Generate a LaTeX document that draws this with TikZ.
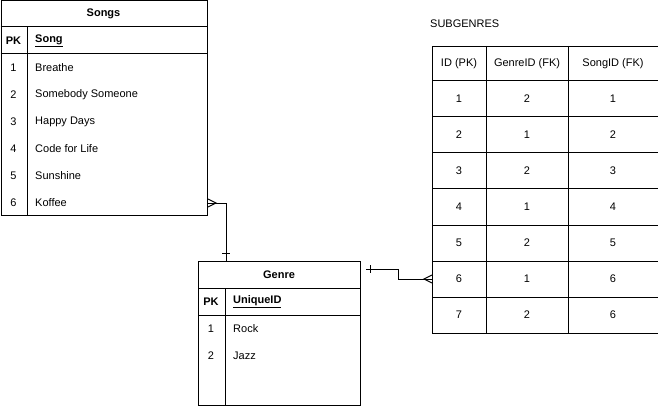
\documentclass[tikz,border=0pt]{standalone}
\usepackage{fontspec}
\setmainfont{Liberation Sans}
\usetikzlibrary{positioning, calc}
\tikzset{
    entity/.style={
        rectangle, draw=black, line width=1pt,
        anchor=north west, inner sep=0pt, fill=white
    },
    divider/.style={draw=black, line width=1pt},
    cell/.style={inner sep=0pt, font=\fontsize{11}{13}\selectfont},
    keycell/.style={cell, font=\fontsize{11}{13}\selectfont\bfseries},
    rowtext/.style={cell, anchor=west},
    relation/.style={draw=black, line width=1pt}
}

\begin{document}
\begin{tikzpicture}[x=1pt, y=-1pt]
\useasboundingbox (0,0) rectangle (658,406);

% Songs table (left)
\node[entity, minimum width=206.5pt, minimum height=214.5pt] (songs) at (0.5,0.5) {};
\draw[divider] ($(songs.north west)+(0,26.5)$) -- ($(songs.north east)+(0,26.5)$);
\draw[divider] ($(songs.north west)+(0,53.5)$) -- ($(songs.north east)+(0,53.5)$);
\draw[divider] ($(songs.north west)+(26.5,26.5)$) -- ($(songs.south west)+(26.5,0)$);
\node[keycell] (shead) at (103.5,13.5) {Songs};
\node[keycell] (spk) at (13.5,41) {PK};
\node[keycell, anchor=west] (skey) at (35,41) {\underline{Song}};
\node[cell] (sn1) at (13.5,68) {1};  \node[rowtext] (s1) at (35,68) {Breathe};
\node[cell] (sn2) at (13.5,95) {2};  \node[rowtext] (s2) at (35,95) {Somebody Someone};
\node[cell] (sn3) at (13.5,122) {3}; \node[rowtext] (s3) at (35,122) {Happy Days};
\node[cell] (sn4) at (13.5,149) {4}; \node[rowtext] (s4) at (35,149) {Code for Life};
\node[cell] (sn5) at (13.5,176) {5}; \node[rowtext] (s5) at (35,176) {Sunshine};
\node[cell] (sn6) at (13.5,203) {6}; \node[rowtext] (s6) at (35,203) {Koffee};

% Genre table (bottom middle)
\node[entity, minimum width=162pt, minimum height=144pt] (genre) at (198,261) {};
\draw[divider] ($(genre.north west)+(0,27)$) -- ($(genre.north east)+(0,27)$);
\draw[divider] ($(genre.north west)+(0,54)$) -- ($(genre.north east)+(0,54)$);
\draw[divider] ($(genre.north west)+(27,27)$) -- ($(genre.south west)+(27,0)$);
\node[keycell] (ghead) at (279,275) {Genre};
\node[keycell] (gpk) at (211,302) {PK};
\node[keycell, anchor=west] (gkey) at (233,302) {\underline{UniqueID}};
\node[cell] (gn1) at (211,329) {1}; \node[rowtext] (g1) at (233,329) {Rock};
\node[cell] (gn2) at (211,356) {2}; \node[rowtext] (g2) at (233,356) {Jazz};

% Subgenres table (right)
\node[cell, anchor=west] (subtitle) at (430,24) {SUBGENRES};
\node[entity, minimum width=225.5pt, minimum height=287pt] (subg) at (432,46) {};
\draw[divider] (486,46) -- (486,333);
\draw[divider] (568,46) -- (568,333);
\draw[divider] (432,81) -- (657.5,81);
\draw[divider] (432,117) -- (657.5,117);
\draw[divider] (432,153) -- (657.5,153);
\draw[divider] (432,189) -- (657.5,189);
\draw[divider] (432,225) -- (657.5,225);
\draw[divider] (432,261) -- (657.5,261);
\draw[divider] (432,297) -- (657.5,297);
\node[cell] (h1) at (459,63.5) {ID (PK)}; \node[cell] (h2) at (527,63.5) {GenreID (FK)}; \node[cell] (h3) at (613,63.5) {SongID (FK)};
\node[cell] (r1a) at (459,99) {1};  \node[cell] (r1b) at (527,99) {2};  \node[cell] (r1c) at (613,99) {1};
\node[cell] (r2a) at (459,135) {2}; \node[cell] (r2b) at (527,135) {1}; \node[cell] (r2c) at (613,135) {2};
\node[cell] (r3a) at (459,171) {3}; \node[cell] (r3b) at (527,171) {2}; \node[cell] (r3c) at (613,171) {3};
\node[cell] (r4a) at (459,207) {4}; \node[cell] (r4b) at (527,207) {1}; \node[cell] (r4c) at (613,207) {4};
\node[cell] (r5a) at (459,243) {5}; \node[cell] (r5b) at (527,243) {2}; \node[cell] (r5c) at (613,243) {5};
\node[cell] (r6a) at (459,279) {6}; \node[cell] (r6b) at (527,279) {1}; \node[cell] (r6c) at (613,279) {6};
\node[cell] (r7a) at (459,315) {7}; \node[cell] (r7b) at (527,315) {2}; \node[cell] (r7c) at (613,315) {6};

% Songs -> Genre (many to one)
\coordinate (songsend) at (songs.east |- s6);
\coordinate (genreend) at ($(genre.north west)+(28,0)$);
\draw[relation] (songsend) -| (genreend);
\draw[relation] ($(songsend)+(0,-4)$) -- ++(8,4) -- ++(-8,4);
\draw[relation] ($(genreend)+(-4,-8)$) -- ++(8,0);

% Genre -> Subgenres (one to many)
\coordinate (genrestart) at ($(genre.north east)+(5,8)$);
\coordinate (subgend) at (subg.west |- r6a);
\draw[relation] (genrestart) -- ++(32,0) |- (subgend);
\draw[relation] ($(genrestart)+(4,-4)$) -- ++(0,8);
\draw[relation] ($(subgend)+(0,-4)$) -- ++(-8,4) -- ++(8,4);

\end{tikzpicture}
\end{document}
